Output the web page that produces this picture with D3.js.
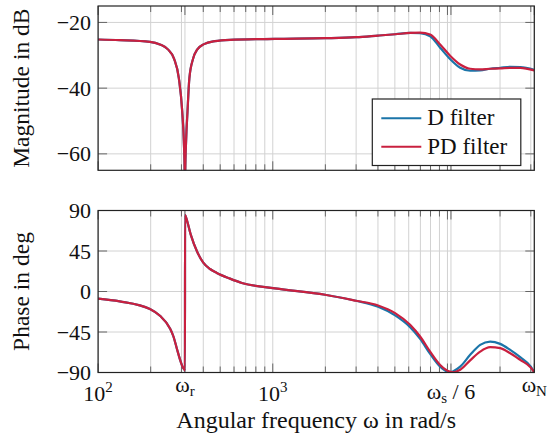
<!DOCTYPE html>
<html>
<head>
<meta charset="utf-8">
<script src="https://cdn.jsdelivr.net/npm/d3@7"></script>
</head>
<body style="margin:0">
<div id="bode_plot"></div>
<script>
// Magnitude points (rad/s, dB)
var omegaMag = [100, 133, 198, 226, 251, 272, 290, 303, 309.5, 313, 314.16, 315.3, 319, 325, 333, 350, 370, 404, 467, 569,
                1031, 1993, 2999, 4010, 5016, 6114, 6975, 7960, 9083, 10420, 11825, 13490, 15390, 17560, 20040, 22870, 26090, 31416];
var magD  = [-25.2, -25.4, -25.9, -26.7, -28.2, -31.0, -37, -47, -56, -66, -120, -66, -56, -47, -37, -31, -28.2, -26.6, -25.7, -25.3,
             -25.0, -24.8, -24.5, -24.0, -23.6, -23.2, -23.3, -24.2, -27.7, -31.3, -33.8, -34.7, -34.6, -34.1, -33.8, -33.5, -33.6, -34.4];
var magPD = [-25.2, -25.4, -25.9, -26.7, -28.2, -31.0, -37, -47, -56, -66, -120, -66, -56, -47, -37, -31, -28.2, -26.6, -25.7, -25.3,
             -25.0, -24.8, -24.5, -24.0, -23.6, -23.2, -23.1, -23.7, -26.7, -30.3, -32.8, -34.1, -34.3, -34.1, -34.0, -33.8, -33.8, -34.6];

// Phase points (rad/s, deg)
var omegaPhase = [100, 133, 198, 226, 258, 270, 282, 296, 307, 311.7, 314.2, 314.6, 318, 339.5, 368, 400, 437.5, 478, 569, 665,
                  1031, 1993, 2999, 4010, 5016, 6114, 6975, 7960, 9083, 10300, 10800, 11825, 13490, 15390, 17560, 20040, 22870, 26090, 30000, 31416];
var phaseD  = [-8, -11, -19.5, -27, -41, -50, -63, -77, -85, -86.5, -88, 85, 83, 63, 44.7, 32, 25, 20.6, 14.3, 9.5,
               3.5, -3.6, -10.3, -17, -26.5, -39.6, -52.6, -69.3, -83.5, -89.8, -88.5, -83.5, -70.4, -59.3, -55.6, -58.2, -64.9, -73, -83.5, -90];
var phasePD = [-8, -11, -19.5, -27, -41, -50, -63, -77, -85, -86.5, -88, 85, 83, 63, 44.7, 32, 25, 20.6, 14.3, 9.5,
               3.5, -3.6, -10.3, -15.5, -24, -37, -50, -66.8, -81.6, -89, -89.8, -87, -76.5, -66.8, -61.9, -63, -68.6, -76, -84.6, -90];

// Axis ticks
var magTicks = [-60, -40, -20];
var phaseTicks = [-90, -45, 0, 45, 90];
var xMajorTicks = [100, 314.16, 1000, 10000, 10472, 31416];
var xMinorTicks = [200, 300, 400, 500, 600, 700, 800, 900, 2000, 3000, 4000, 5000, 6000, 7000, 8000, 9000, 20000, 30000];
var xTickValues = [100, 314.16, 1000, 10472, 31416];
var xTickLabels = ["10^2", "ω_r", "10^3", "ω_s / 6", "ω_N"];

var seriesNames = ["D filter", "PD filter"];
var seriesColors = ["#1b75a9", "#c9203f"];

var width = 557, height = 440;
var plotLeft = 98.1, plotRight = 534.3;

var svg = d3.select("#bode_plot").append("svg")
            .attr("width", width)
            .attr("height", height);

// every text gets the serif face set on itself
function serifText(sel, size){
    return sel.attr("font-family", "'Liberation Serif'")
              .attr("font-size", size)
              .attr("fill", "#111");
}

var x = d3.scaleLog().domain([100, 31416]).range([plotLeft, plotRight]);

function drawPanel(top, bottom, yDomain, yTicks, omega, seriesValues, yTitle, clipId){
    var y = d3.scaleLinear().domain(yDomain).range([bottom, top]);
    var g = svg.append("g");
    var allX = xMajorTicks.concat(xMinorTicks);

    // vertical grid
    allX.forEach(function(v){
        g.append("line")
            .attr("x1", x(v)).attr("x2", x(v)).attr("y1", top).attr("y2", bottom)
            .attr("stroke", "#d2d2d2");
    });

    // horizontal grid
    yTicks.forEach(function(v){
        g.append("line")
            .attr("x1", plotLeft).attr("x2", plotRight).attr("y1", y(v)).attr("y2", y(v))
            .attr("stroke", "#d2d2d2");
    });

    // tick marks on all four sides, pointing inward
    var tickCol = "#666";
    allX.forEach(function(v){
        var len = xMajorTicks.indexOf(v) >= 0 ? 9 : 6;
        g.append("line").attr("x1", x(v)).attr("x2", x(v)).attr("y1", bottom).attr("y2", bottom - len).attr("stroke", tickCol);
        g.append("line").attr("x1", x(v)).attr("x2", x(v)).attr("y1", top).attr("y2", top + len).attr("stroke", tickCol);
    });
    yTicks.forEach(function(v){
        g.append("line").attr("x1", plotLeft).attr("x2", plotLeft + 9).attr("y1", y(v)).attr("y2", y(v)).attr("stroke", tickCol);
        g.append("line").attr("x1", plotRight).attr("x2", plotRight - 9).attr("y1", y(v)).attr("y2", y(v)).attr("stroke", tickCol);
        serifText(svg.append("text"), 22)
            .attr("x", plotLeft - 7)
            .attr("y", y(v) + 7.5)
            .attr("text-anchor", "end")
            .text(v < 0 ? "\u2212" + (-v) : v);
    });

    // curves
    g.append("clipPath").attr("id", clipId)
        .append("rect").attr("x", plotLeft).attr("y", top)
        .attr("width", plotRight - plotLeft).attr("height", bottom - top);

    var line = d3.line()
        .x(function(d){ return x(d[0]); })
        .y(function(d){ return y(d[1]); })
        .curve(d3.curveMonotoneX);

    seriesValues.forEach(function(vals, i){
        g.append("path")
            .datum(d3.zip(omega, vals))
            .attr("clip-path", "url(#" + clipId + ")")
            .attr("d", line)
            .attr("fill", "none")
            .attr("stroke", seriesColors[i])
            .attr("stroke-width", 2.2)
            .attr("stroke-linejoin", "round");
    });

    // frame
    g.append("rect")
        .attr("x", plotLeft).attr("y", top)
        .attr("width", plotRight - plotLeft).attr("height", bottom - top)
        .attr("fill", "none").attr("stroke", "#222").attr("stroke-width", 1.2);

    // y axis title
    serifText(svg.append("text"), 23.5)
        .attr("transform", "translate(29," + ((top + bottom) / 2) + ") rotate(-90)")
        .attr("text-anchor", "middle")
        .text(yTitle);
}

drawPanel(6, 170.3, [-65, -15], magTicks, omegaMag, [magD, magPD], "Magnitude in dB", "clipMag");
drawPanel(210.5, 372.5, [-90, 90], phaseTicks, omegaPhase, [phaseD, phasePD], "Phase in deg", "clipPhase");

// x tick labels, tops aligned like pgfplots (anchor north)
xTickValues.forEach(function(v, i){
    var lab = xTickLabels[i];
    var t = serifText(svg.append("text"), 22)
        .attr("x", x(v))
        .attr("text-anchor", "middle");
    var base;
    if (lab.indexOf("^") >= 0){
        var p = lab.split("^");
        t.append("tspan").text(p[0]);
        t.append("tspan").attr("font-size", 15).attr("dy", -9).text(p[1]);
        base = 401;
    } else {
        var q = lab.split("_");
        var rest = q[1].split(" ");
        t.append("tspan").text(q[0]);
        t.append("tspan").attr("font-size", 15).attr("dy", 4).text(rest[0]);
        if (rest.length > 1){
            t.append("tspan").attr("dy", -4).text(" " + rest.slice(1).join(" "));
            base = 399;
        } else {
            base = 392;
        }
    }
    t.attr("y", base);
});

// x axis title
serifText(svg.append("text"), 24)
    .attr("x", (plotLeft + plotRight) / 2)
    .attr("y", 428)
    .attr("text-anchor", "middle")
    .text("Angular frequency ω in rad/s");

// legend
var legend = svg.append("g").attr("transform", "translate(372.3,99)");
legend.append("rect")
    .attr("width", 148.5).attr("height", 66.5)
    .attr("fill", "#fff").attr("stroke", "#222").attr("stroke-width", 1.2);
seriesNames.forEach(function(name, i){
    var ly = 19.3 + i * 28.4;
    legend.append("line")
        .attr("x1", 9).attr("x2", 49).attr("y1", ly).attr("y2", ly)
        .attr("stroke", seriesColors[i]).attr("stroke-width", 2);
    serifText(legend.append("text"), 23)
        .attr("x", 55).attr("y", ly + 7)
        .text(name);
});
</script>
</body>
</html>
